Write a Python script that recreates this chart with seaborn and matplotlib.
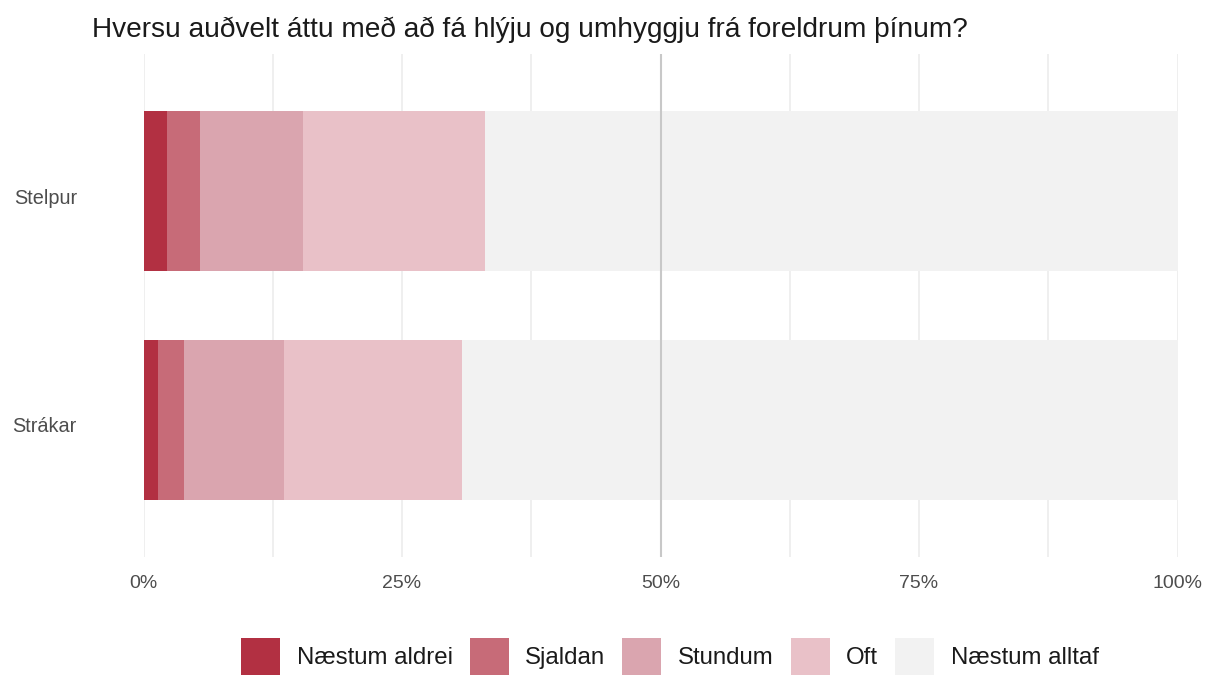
import pandas as pd
import seaborn as sb
import matplotlib.pyplot as plt
import matplotlib.transforms as mtrans
from matplotlib.patches import Patch

# gögn lesin af myndinni (prósent)
groups = ["Stelpur", "Strákar"]
answers = ["Næstum aldrei", "Sjaldan", "Stundum", "Oft", "Næstum alltaf"]
stelpur = [2.3, 3.2, 9.9, 17.6, 67.0]
strakar = [1.4, 2.5, 9.7, 17.2, 69.2]
colors = ["#B23042", "#C76B78", "#DAA5AF", "#E9C1C8", "#F2F2F2"]
x_ticks = [0, 25, 50, 75, 100]
x_labels = ["0%", "25%", "50%", "75%", "100%"]
title = "Hversu auðvelt áttu með að fá hlýju og umhyggju frá foreldrum þínum?"

rows = []
for g, vals in zip(groups, [stelpur, strakar]):
    cum = 0
    for a, v in zip(answers, vals):
        cum += v
        rows.append({"group": g, "answer": a, "value": v, "cum": cum})
df = pd.DataFrame(rows)

sb.set_theme(style="white")
plt.rcParams['font.family'] = ['Liberation Sans', 'DejaVu Sans']

fig = plt.figure(figsize=(12.12, 6.77), dpi=100)
ax = fig.add_axes([143.5/1212, 1-557/677, (1177.5-143.5)/1212, (557-54)/677])

# stafla: teikna lengstu súluna fyrst
for a, c in reversed(list(zip(answers, colors))):
    sb.barplot(data=df[df.answer == a], x="cum", y="group", order=groups,
               color=c, saturation=1, width=0.7, orient="h", linewidth=0,
               errorbar=None, ax=ax, zorder=2)

ax.axvline(50, color="#C8C8C8", lw=1.5, zorder=5)
ax.set_xlim(0, 100)
ax.set_ylim(1.6, -0.6)
ax.set_xticks(x_ticks)
ax.set_xticklabels(x_labels)
ax.set_xticks([12.5, 37.5, 62.5, 87.5], minor=True)
ax.set_axisbelow(True)
ax.grid(axis="x", which="major", color="#EBEBEB", lw=1.1)
ax.grid(axis="x", which="minor", color="#EBEBEB", lw=1.1)
ax.grid(axis="y", visible=False)
ax.tick_params(axis="x", which="both", length=0, pad=13, labelsize=14, labelcolor="#4D4D4D")
ax.tick_params(axis="y", length=0, pad=48, labelsize=14.3, labelcolor="#4D4D4D")
# heitin sitja aðeins neðar en miðja súlnanna
shift = mtrans.ScaledTranslation(0, -5/100, fig.dpi_scale_trans)
for lab in ax.get_yticklabels():
    lab.set_transform(lab.get_transform() + shift)
ax.set_xlabel("")
ax.set_ylabel("")
sb.despine(ax=ax, left=True, bottom=True)

fig.text(92/1212, 1-37/677, title, fontsize=20.2, color="#1A1A1A", va="baseline", ha="left")

handles = [Patch(facecolor=c, edgecolor="none") for c in colors]
fig.legend(handles, answers, loc="center", bbox_to_anchor=(670/1212, 1-656.5/677),
           ncol=5, frameon=False, fontsize=17.3, handlelength=1.62, handleheight=2.04,
           handletextpad=0.7, columnspacing=0.7, borderpad=0, borderaxespad=0,
           labelcolor="#1A1A1A")

fig.savefig("out.png", dpi=100)
